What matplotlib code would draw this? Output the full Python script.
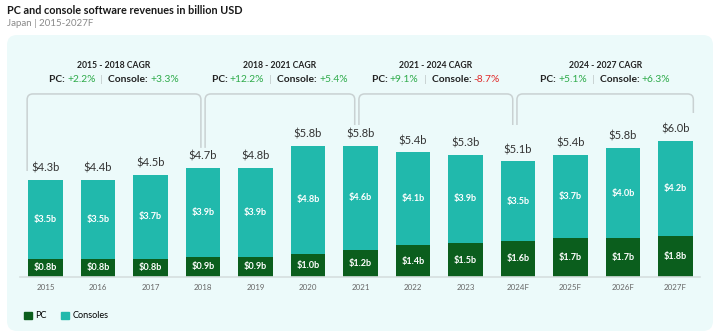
import matplotlib
matplotlib.use("Agg")
import matplotlib.pyplot as plt
import numpy as np
from matplotlib.patches import FancyBboxPatch, PathPatch
from matplotlib.path import Path
from matplotlib.offsetbox import TextArea, HPacker, AnnotationBbox

plt.rcParams['font.family'] = ['Lato', 'DejaVu Sans']

# data
years = ['2015', '2016', '2017', '2018', '2019', '2020', '2021',
         '2022', '2023', '2024F', '2025F', '2026F', '2027F']
pc = [0.8, 0.8, 0.8, 0.9, 0.9, 1.0, 1.2, 1.4, 1.5, 1.6, 1.7, 1.7, 1.8]
consoles = [3.5, 3.5, 3.7, 3.9, 3.9, 4.8, 4.6, 4.1, 3.9, 3.5, 3.7, 4.0, 4.2]
totals = [4.3, 4.4, 4.5, 4.7, 4.8, 5.8, 5.8, 5.4, 5.3, 5.1, 5.4, 5.8, 6.0]

periods = ['2015 - 2018 CAGR', '2018 - 2021 CAGR', '2021 - 2024 CAGR', '2024 - 2027 CAGR']
pc_cagr = [2.2, 12.2, 9.1, 5.1]
console_cagr = [3.3, 5.4, -8.7, 6.3]

# colours
c_pc = '#0b5e1d'
c_con = '#21b9ac'
c_bg = '#ecfafa'
c_green = '#2fab4b'
c_red = '#e02b2b'
c_dark = '#333333'
c_line = '#c9d1d2'

fig = plt.figure(figsize=(7.2, 3.35), dpi=100)

# background axes in pixel units
bg = fig.add_axes([0, 0, 1, 1], zorder=0)
bg.set_xlim(0, 720)
bg.set_ylim(335, 0)
bg.axis('off')
bg.add_patch(FancyBboxPatch((7, 35), 706, 296, boxstyle='round,pad=0,rounding_size=10',
                            fc=c_bg, ec='none'))
bg.text(7, 10, 'PC and console software revenues in billion USD', fontsize=7.8,
        fontweight='bold', color='#1a1a1a', va='center')
bg.text(7, 24, 'Japan | 2015-2027F', fontsize=7, color='#8a8a8a', va='center')

# bar axes
ax = fig.add_axes([20/720, 58/335, 680/720, 227/335], zorder=1)
ax.patch.set_alpha(0)
x = np.arange(len(years))
w = 0.66
ax.bar(x, pc, w, color=c_pc, zorder=2)
ax.bar(x, consoles, w, bottom=pc, color=c_con, zorder=2)
ax.set_xlim(-0.486, 12.467)
ax.set_ylim(0, 10.02)

for i in range(len(years)):
    ax.text(x[i], pc[i] / 2, f'${pc[i]:.1f}b', ha='center', va='center',
            color='white', fontsize=6.6, fontweight='bold')
    ax.text(x[i], pc[i] + consoles[i] / 2, f'${consoles[i]:.1f}b', ha='center',
            va='center', color='white', fontsize=6.6, fontweight='bold')
    ax.text(x[i], pc[i] + consoles[i] + 0.28, f'${totals[i]:.1f}b', ha='center',
            va='bottom', color=c_dark, fontsize=8)

for s in ['top', 'right', 'left']:
    ax.spines[s].set_visible(False)
ax.spines['bottom'].set_color('#d6dfdf')
ax.spines['bottom'].set_linewidth(1.2)
ax.set_yticks([])
ax.set_xticks(x)
ax.set_xticklabels(years, fontsize=5.7, color='#666666')
ax.tick_params(axis='x', length=0, pad=5)

# CAGR brackets
spans = [(-0.35, 2.96), (3.04, 5.89), (5.97, 8.90), (8.98, 12.34)]
ends = [(4.68, 5.70), (5.70, 6.71), (6.71, 6.71), (6.71, 7.24)]
top = 8.08
rx, ry = 0.11, 0.25
for (x0, x1), (y0, y1), per, p, c in zip(spans, ends, periods, pc_cagr, console_cagr):
    verts = [(x0, y0), (x0, top - ry), (x0, top), (x0 + rx, top),
             (x1 - rx, top), (x1, top), (x1, top - ry), (x1, y1)]
    codes = [Path.MOVETO, Path.LINETO, Path.CURVE3, Path.CURVE3,
             Path.LINETO, Path.CURVE3, Path.CURVE3, Path.LINETO]
    ax.add_patch(PathPatch(Path(verts, codes), fc='none', ec=c_line, lw=1.1,
                           clip_on=False, zorder=1))
    xc = (x0 + x1) / 2
    ax.text(xc, 9.32, per, ha='center', va='center', fontsize=6.2,
            fontweight='bold', color='#222222')
    parts = [
        TextArea('PC: ', textprops=dict(fontsize=7.4, fontweight='bold', color='#222222')),
        TextArea(f'{p:+.1f}%', textprops=dict(fontsize=7.4, color=c_green if p >= 0 else c_red)),
        TextArea('  |  ', textprops=dict(fontsize=7.4, color='#c0c8c8')),
        TextArea('Console: ', textprops=dict(fontsize=7.4, fontweight='bold', color='#222222')),
        TextArea(f'{c:+.1f}%', textprops=dict(fontsize=7.4, color=c_green if c >= 0 else c_red)),
    ]
    box = HPacker(children=parts, align='baseline', pad=0, sep=0)
    ab = AnnotationBbox(box, (xc, 8.70), xycoords='data', frameon=False,
                        box_alignment=(0.5, 0.5), annotation_clip=False)
    ax.add_artist(ab)

# legend
h_pc = plt.Rectangle((0, 0), 1, 1, color=c_pc)
h_con = plt.Rectangle((0, 0), 1, 1, color=c_con)
fig.legend([h_pc, h_con], ['PC', 'Consoles'], loc='center left',
           bbox_to_anchor=(16/720, 1 - 316/335), ncol=2, frameon=False,
           handlelength=0.8, handleheight=0.8, handletextpad=0.4,
           columnspacing=1.6, fontsize=6.6)

fig.savefig('out.png', dpi=100)
